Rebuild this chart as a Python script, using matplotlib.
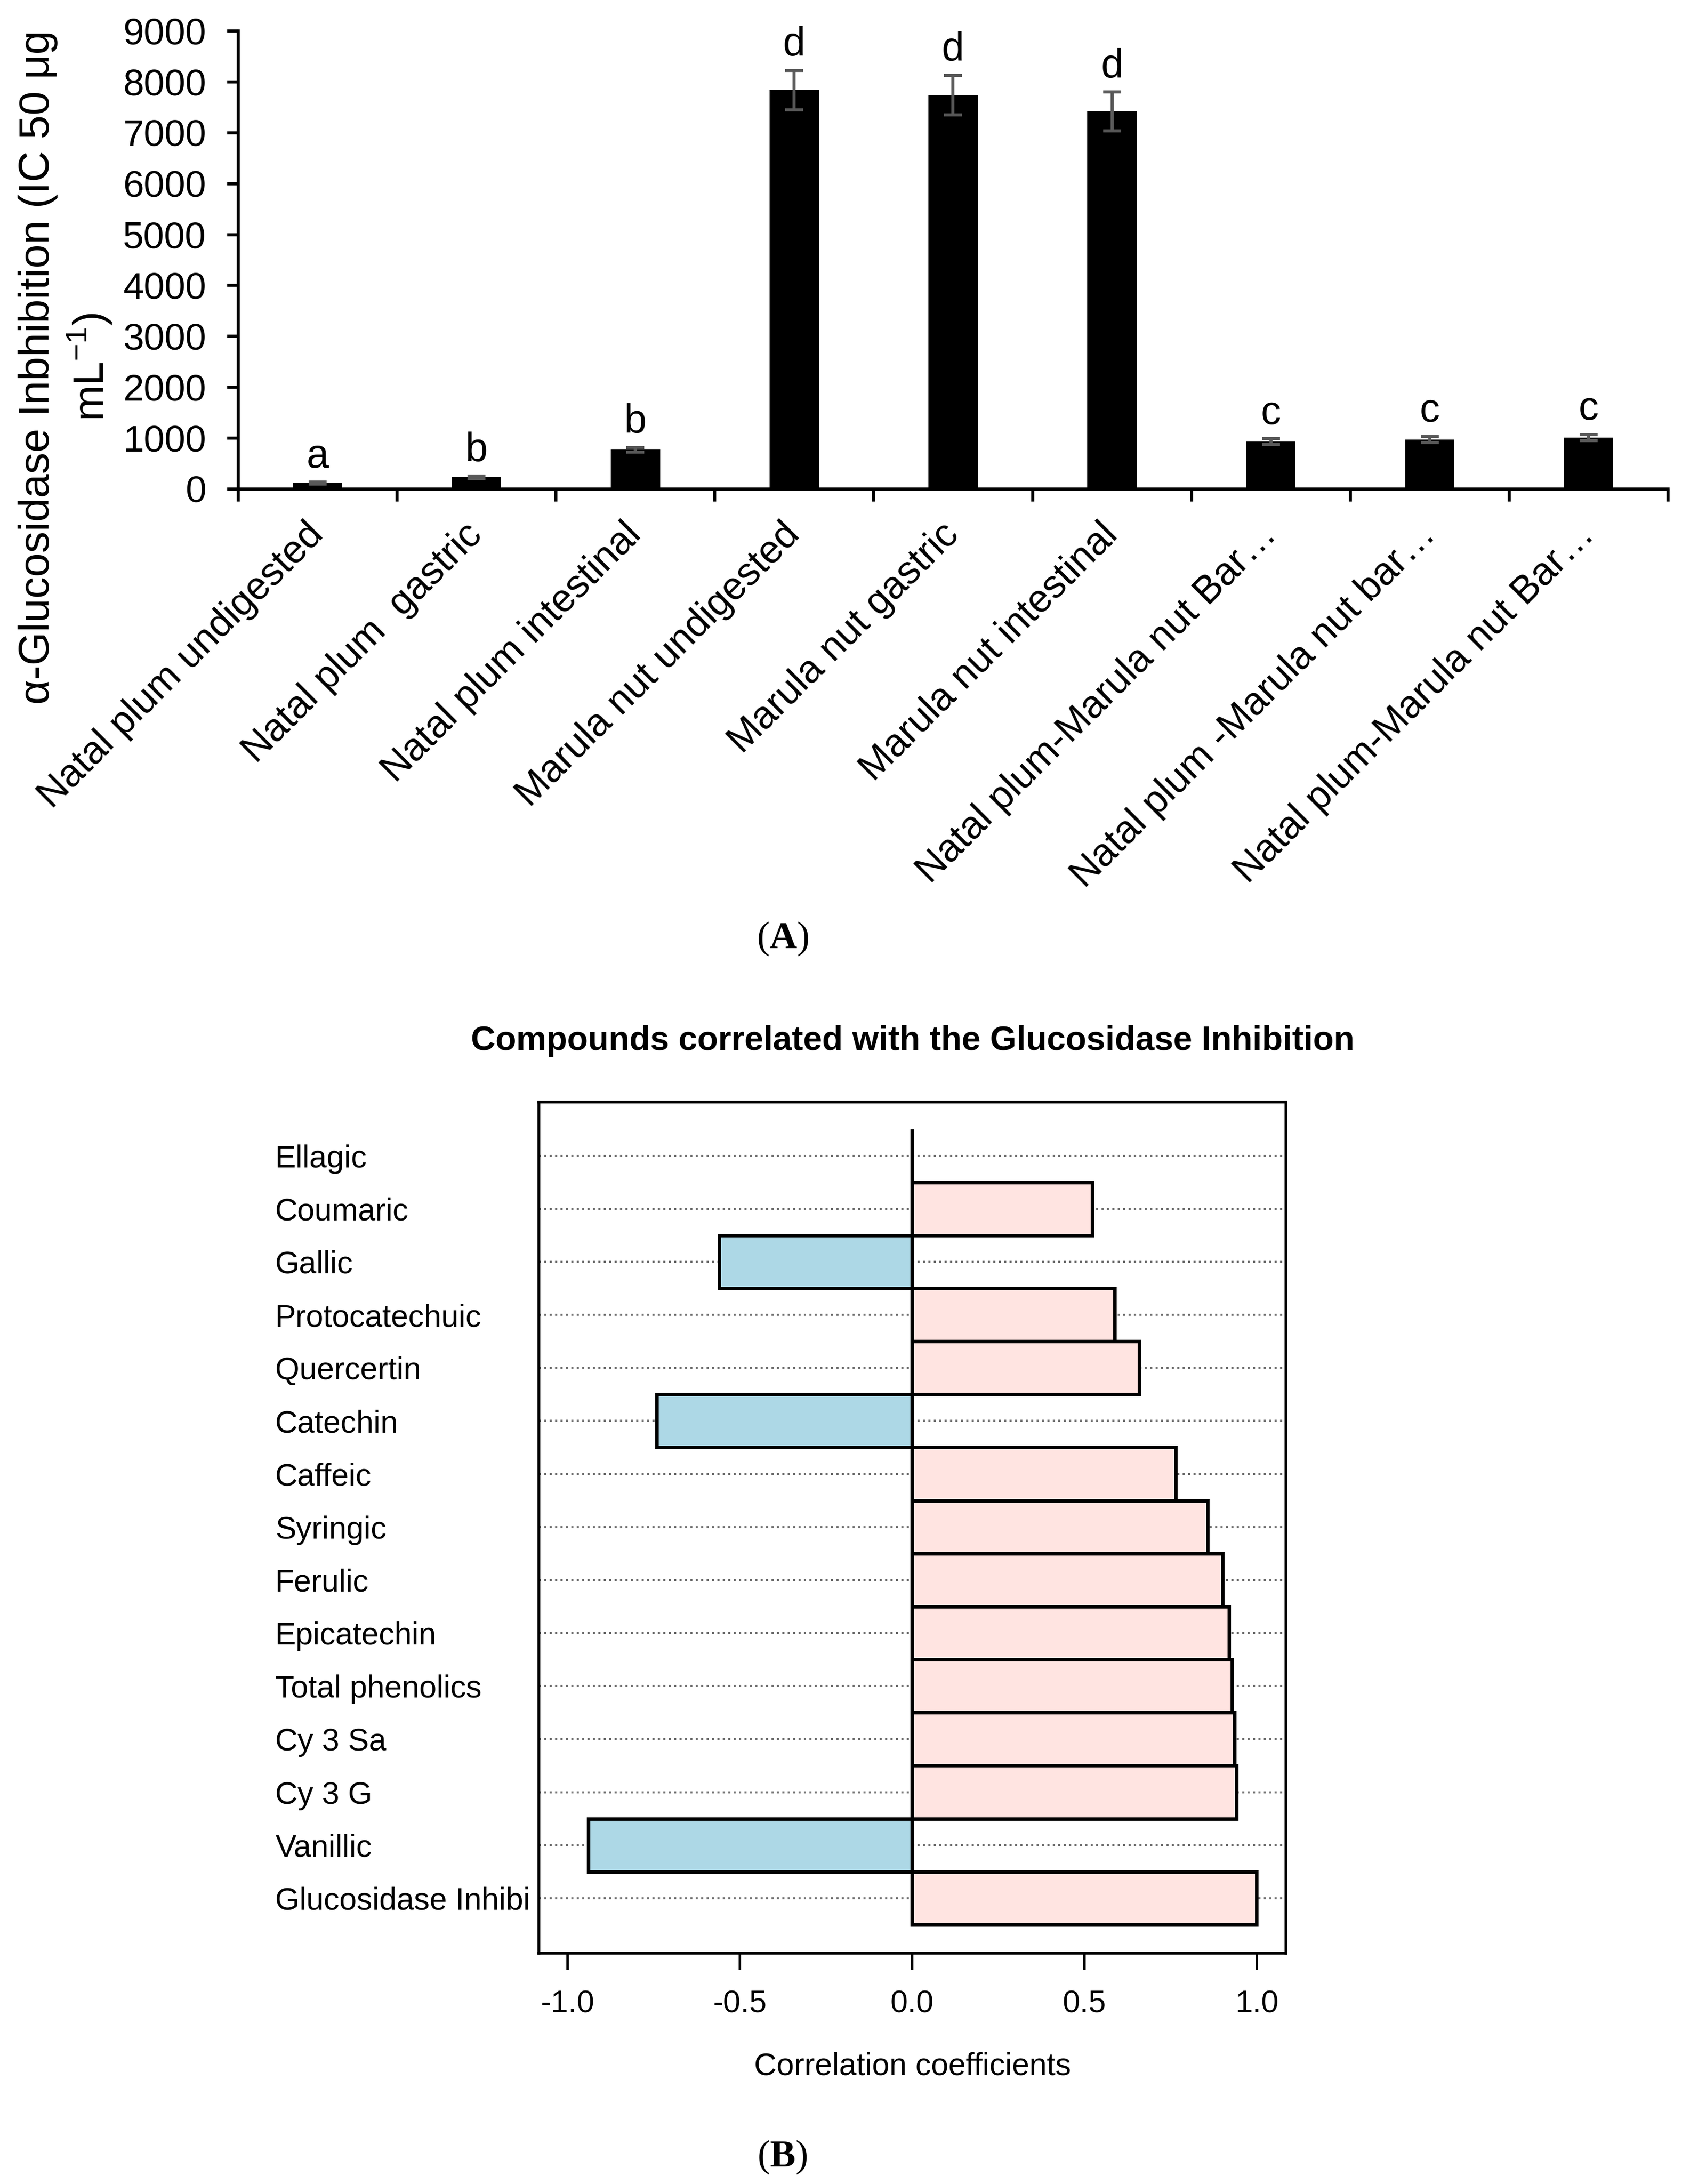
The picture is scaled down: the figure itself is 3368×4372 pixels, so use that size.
import numpy as np
import matplotlib
import matplotlib.pyplot as plt

plt.rcParams['font.family'] = ['Liberation Sans', 'DejaVu Sans']
plt.rcParams['mathtext.fontset'] = 'custom'
plt.rcParams['mathtext.rm'] = 'Liberation Sans'
plt.rcParams['mathtext.bf'] = 'Liberation Serif:bold'

# panel A data
samples = ["Natal plum undigested", "Natal plum  gastric", "Natal plum intestinal",
           "Marula nut undigested", "Marula nut gastric", "Marula nut intestinal",
           "Natal plum-Marula nut Bar\u2026", "Natal plum -Marula nut bar\u2026",
           "Natal plum-Marula nut Bar\u2026"]
ic50 = [115, 230, 770, 7840, 7740, 7420, 930, 970, 1010]
ic50_err = [20, 25, 45, 390, 390, 380, 58, 60, 60]
letters = ["a", "b", "b", "d", "d", "d", "c", "c", "c"]

# panel B data
compounds = ["Ellagic", "Coumaric", "Gallic", "Protocatechuic", "Quercertin", "Catechin",
             "Caffeic", "Syringic", "Ferulic", "Epicatechin", "Total phenolics",
             "Cy 3 Sa", "Cy 3 G", "Vanillic", "Glucosidase Inhibi"]
corr = [0.0, 0.523, -0.559, 0.588, 0.659, -0.741, 0.765, 0.858, 0.901, 0.920,
        0.928, 0.935, 0.941, -0.939, 1.0]

fig = plt.figure(figsize=(33.68, 43.72), dpi=100)

# ---- panel A ----
ax1 = fig.add_axes([0.1416, 0.7761, 0.8501, 0.2097])
x = np.arange(len(samples))
ax1.bar(x, ic50, width=0.31, color='black', zorder=2)
ax1.errorbar(x, ic50, yerr=ic50_err, fmt='none', ecolor='#595959',
             elinewidth=4.5, capsize=13, capthick=4.5, zorder=3)
for xi, v, e, t in zip(x, ic50, ic50_err, letters):
    ax1.annotate(t, (xi, v + e), xytext=(0, 9), textcoords='offset points',
                 ha='center', va='bottom', fontsize=58)
ax1.set_xlim(-0.5, len(samples) - 0.5)
ax1.set_ylim(0, 9000)
ax1.set_yticks(np.arange(0, 9001, 1000))
ax1.set_xticks(np.arange(-0.5, len(samples), 1.0))
ax1.set_xticklabels([])
ax1.set_xticks(x, minor=True)
ax1.set_xticklabels(samples, minor=True, rotation=45, ha='right',
                    rotation_mode='anchor', va='center', fontsize=56)
ax1.tick_params(axis='x', which='major', length=18, width=4.5, direction='out')
ax1.tick_params(axis='x', which='minor', length=0, pad=58)
ax1.tick_params(axis='y', length=16, width=4.5, labelsize=54, pad=30)
for s in ['top', 'right']:
    ax1.spines[s].set_visible(False)
for s in ['left', 'bottom']:
    ax1.spines[s].set_linewidth(4.5)

fig.text(132 / 3368, 1 - 735 / 4372,
         "\u03b1-Glucosidase Inbhibition (IC 50 \u03bcg\nmL$^{-1}$)",
         rotation=90, ha='center', va='center', multialignment='center',
         fontsize=62, linespacing=1.2)

fig.text(1567 / 3368, 1 - 1879 / 4372, r"($\mathbf{A}$)", ha='center', va='center',
         fontsize=55, family='Liberation Serif')

# ---- panel B ----
ax2 = fig.add_axes([0.3204, 0.1057, 0.4442, 0.3897])
y = np.arange(len(compounds))[::-1]
colors = ['#FFE4E1' if v >= 0 else '#ADD8E6' for v in corr]
ax2.barh(y, corr, height=1.0, color=colors, edgecolor='black', linewidth=5, zorder=2)
for yi in y:
    ax2.axhline(yi, color='#6e6e6e', linestyle=(0, (1, 1.6)), linewidth=3, zorder=1)
ax2.set_xlim(-1.082, 1.085)
ax2.set_ylim(-1.036, len(compounds) - 1 + 1.012)
ax2.set_yticks(y)
ax2.set_yticklabels(compounds, ha='left', fontsize=45)
ax2.tick_params(axis='y', length=0, pad=380)
ax2.set_xticks([-1.0, -0.5, 0.0, 0.5, 1.0])
ax2.set_xticklabels(["-1.0", "-0.5", "0.0", "0.5", "1.0"], fontsize=45)
ax2.tick_params(axis='x', length=24, width=3.5, pad=28)
for s in ax2.spines.values():
    s.set_linewidth(4)
ax2.set_xlabel("Correlation coefficients", fontsize=45, labelpad=48)
ax2.set_title("Compounds correlated with the Glucosidase Inhibition",
              fontsize=49, fontweight='bold', pad=75)

fig.text(1566 / 3368, 1 - 4318 / 4372, r"($\mathbf{B}$)", ha='center', va='center',
         fontsize=55, family='Liberation Serif')

fig.savefig("out.png", dpi=100)
